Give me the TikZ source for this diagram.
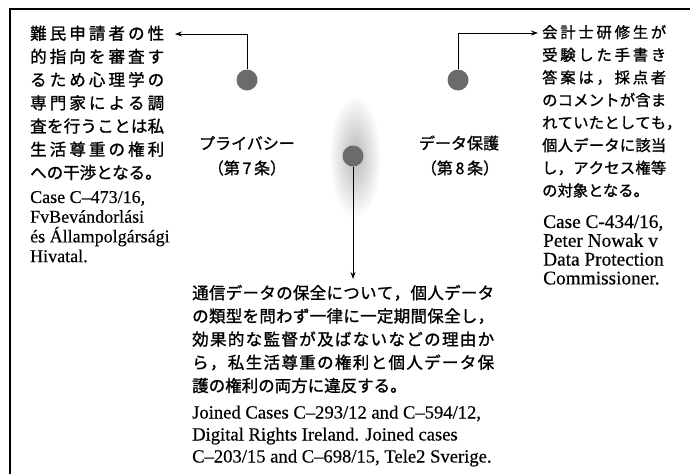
\documentclass[tikz,border=0pt]{standalone}
\usepackage{fontspec}
\setmainfont{Liberation Serif}[FakeBold=0.4]
\newfontfamily\jf{Noto Sans CJK JP}[FakeBold=1.2]
\usetikzlibrary{arrows.meta}
\def\jsp#1{#1\jspp}
\def\jspp#1{\ifx\relax#1\else\hfill#1\expandafter\jspp\fi}
\newcommand\jl[2]{\hbox to #1{\jsp#2\relax}}
\tikzset{
  dot/.style={circle, fill=black!58, minimum size=21pt, inner sep=0pt},
  conn/.style={line width=0.9pt, -{Stealth[length=7pt,width=5pt]}},
  jtxtL/.style={anchor=base west, inner sep=0pt, font=\jf\fontsize{16.5}{20}\selectfont},
  jtxtR/.style={anchor=base west, inner sep=0pt, font=\jf\fontsize{15.3}{20}\selectfont},
  etxt/.style={anchor=base west, inner sep=0pt, font=\fontsize{18}{20}\selectfont},
  etxtB/.style={anchor=base west, inner sep=0pt, font=\fontsize{18.6}{20}\selectfont},
  etxtR/.style={anchor=base west, inner sep=0pt, font=\fontsize{19.3}{20}\selectfont},
  lab/.style={inner sep=0pt, font=\jf\fontsize{16}{20}\selectfont},
  frame/.style={line width=2pt}
}
\begin{document}
\begin{tikzpicture}[x=1pt,y=-1pt]
\useasboundingbox (0,0) rectangle (695,474);
\draw[frame] (9.5,474) -- (9.5,9) -- (690,9);

% glow and dots
\shade[inner color=black!28, outer color=white] (355,157) ellipse [x radius=26pt, y radius=62pt];
\node[dot] (dL) at (247,80) {};
\node[dot] (dR) at (458,80) {};
\node[dot] (dC) at (353,156) {};

% connectors
\coordinate (eL) at (175,34);
\coordinate (eR) at (538,33);
\coordinate (eC) at (353,279);
\draw[conn] (dL.north) |- (eL);
\draw[conn] (dR.north) |- (eR);
\draw[conn] (dC.south) -- (eC);

% labels
\node[lab] (pv) at (247,143) {プライバシー};
\node[lab] (pv2) at (247,168) {（第\,7\,条）};
\node[lab] (dp) at (459,143) {データ保護};
\node[lab] (dp2) at (460,168) {（第\,8\,条）};

% left block
\node[jtxtL] (tL) at (30,39.5) {\vtop{\baselineskip=23.2pt
  \jl{134pt}{難民申請者の性}\jl{134pt}{的指向を審査す}\jl{134pt}{るため心理学の}%
  \jl{134pt}{専門家による調}\jl{134pt}{査を行うことは私}\jl{134pt}{生活尊重の権利}%
  \hbox{への干渉となる。}}};
\node[etxt] (cL) at (30,203) {\vtop{\baselineskip=19.7pt
  \hbox{Case C–473/16,}\hbox{FvBevándorlási}\hbox{és Állampolgársági}\hbox{Hivatal.}}};

% right block
\node[jtxtR] (tR) at (542,38) {\vtop{\baselineskip=22.6pt
  \jl{124pt}{会計士研修生が}\jl{124pt}{受験した手書き}\jl{124pt}{答案は，採点者}%
  \jl{124pt}{のコメントが含ま}\hbox{\jl{124pt}{れていたとしても}\rlap{，}}%
  \jl{124pt}{個人データに該当}\jl{124pt}{し，アクセス権等}\hbox{の対象となる。}}};
\node[etxtR] (cR) at (543,228) {\vtop{\baselineskip=18.8pt
  \hbox{Case C-434/16,}\hbox{Peter Nowak v}\hbox{Data Protection}\hbox{Commissioner.}}};

% bottom block
\node[jtxtL] (tB) at (192,299) {\vtop{\baselineskip=23.2pt
  \jl{302pt}{通信データの保全について，個人データ}%
  \jl{302pt}{の類型を問わず一律に一定期間保全し，}%
  \jl{302pt}{効果的な監督が及ばないなどの理由か}%
  \jl{302pt}{ら，私生活尊重の権利と個人データ保}%
  \hbox{護の権利の両方に違反する。}}};
\node[etxtB] (cB) at (192,418.5) {\vtop{\baselineskip=22pt
  \hbox{Joined Cases C–293/12 and C–594/12,}\hbox{Digital Rights Ireland. Joined cases}%
  \hbox{C–203/15 and C–698/15, Tele2 Sverige.}}};
\end{tikzpicture}
\end{document}
